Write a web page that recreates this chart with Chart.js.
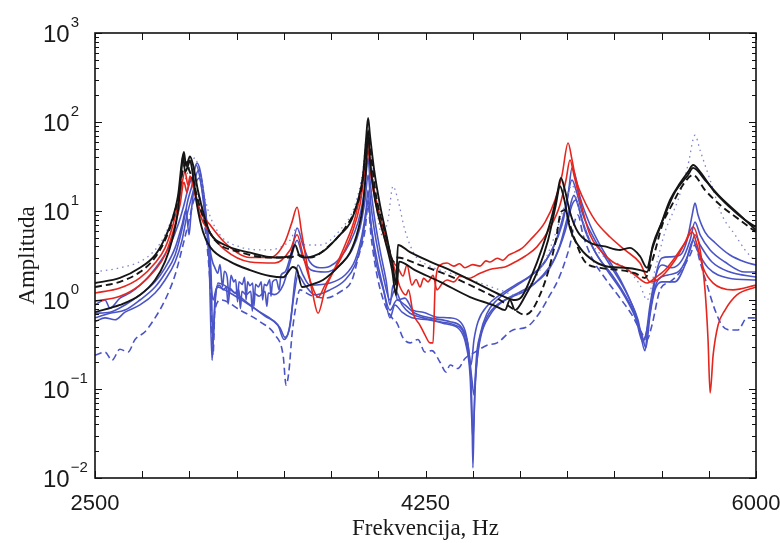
<!DOCTYPE html>
<html>
<head>
<meta charset="utf-8">
<script src="https://cdn.jsdelivr.net/npm/chart.js@4/dist/chart.umd.min.js"></script>
<style>
  html, body { margin: 0; padding: 0; background: #fff; }
  #wrap { width: 780px; height: 543px; }
</style>
</head>
<body>
<div id="wrap"><canvas id="amp" width="780" height="543"></canvas></div>
<script>
// frequency [Hz], amplitude pairs
const blackTop = [[2500,1.55],[2632,1.77],[2738,2.3],[2818,3.2],[2871,5.0],[2908,7.9],[2940,15],[2961,37],[2971,46],[2982,32],[3003,41],[3019,33],[3045,17],[3077,9],[3109,5.7],[3188,4.15],[3321,3.4],[3453,3.0],[3533,3.1],[3559,4.15],[3585,3.1],[3612,3.0],[3707,3.5],[3797,5.4],[3850,7.3],[3893,13.3],[3919,25],[3935,63],[3946,111],[3956,71],[3978,29],[4009,11.7],[4046,5.0],[4078,2.3],[4094,1.47],[4104,4.15],[4168,3.45],[4274,2.7],[4380,2.17],[4486,1.68],[4592,1.3],[4671,1.08],[4724,1.0],[4761,1.1],[4814,1.91],[4867,3.8],[4914,7.9],[4946,15],[4967,23.5],[4988,17.2],[5015,9.7],[5057,5.8],[5121,4.4],[5200,4.0],[5280,3.65],[5333,3.85],[5386,3.1],[5423,2.3],[5449,3.65],[5492,6.6],[5545,13.3],[5598,20.6],[5640,27.5],[5667,32.9],[5704,27.5],[5773,17.2],[5862,11],[5942,7.9],[6000,6.6]];

const blackLow = [[2500,0.73],[2632,0.88],[2738,1.14],[2818,1.68],[2871,2.7],[2908,4.7],[2940,10.3],[2955,23.5],[2966,42],[2977,27.5],[2992,32],[3003,37],[3019,25],[3040,11.7],[3072,5.8],[3109,3.95],[3215,2.7],[3321,2.17],[3427,1.86],[3496,1.8],[3548,2.35],[3570,2.17],[3596,1.4],[3638,1.47],[3707,1.68],[3797,2.47],[3850,3.4],[3893,6.1],[3919,11.7],[3935,29],[3946,81],[3956,37],[3983,13.3],[4036,4.7],[4073,2.17],[4094,1.14],[4110,2.7],[4194,2.17],[4327,1.6],[4486,1.08],[4618,0.86],[4671,0.77],[4697,1.0],[4724,0.77],[4777,1.1],[4846,2.17],[4899,4.7],[4940,11.7],[4962,19],[4983,14],[5015,6.4],[5068,3.85],[5147,2.7],[5227,2.35],[5306,2.3],[5386,2.17],[5423,2.06],[5454,4.15],[5502,7.5],[5571,16.3],[5640,25.4],[5667,30.5],[5730,22.3],[5810,14.4],[5915,9],[6000,6.1]];

const blackDash = [[2500,1.4],[2632,1.6],[2738,2.06],[2818,3.0],[2871,4.7],[2908,7.5],[2940,14],[2966,29],[2982,35.5],[2998,29],[3019,22.3],[3045,13.3],[3082,7.5],[3135,4.7],[3268,3.45],[3427,3.0],[3533,3.0],[3570,3.2],[3638,3.0],[3744,4.15],[3824,6.45],[3877,10.3],[3914,19.6],[3935,48],[3946,77],[3961,42.6],[3988,15],[4036,5.8],[4083,2.7],[4099,3.0],[4221,2.47],[4380,1.86],[4539,1.3],[4644,1.0],[4724,0.77],[4777,0.68],[4814,0.77],[4856,1.14],[4899,2.06],[4940,4.7],[4967,9.7],[4988,10.3],[5015,7],[5042,4.7],[5094,2.7],[5174,2.3],[5280,2.17],[5359,2.0],[5412,1.77],[5449,2.7],[5507,7.3],[5555,11.7],[5613,19.6],[5667,25.4],[5730,17.2],[5810,11.7],[5915,7.9],[6000,5.8]];

const blueDot = [[2500,2.06],[2632,2.3],[2738,2.7],[2818,3.65],[2871,5.4],[2924,10.3],[2977,22.3],[3030,39.5],[3056,25.4],[3098,10.3],[3162,5.4],[3268,3.95],[3400,3.65],[3533,4.7],[3570,6.45],[3612,4.15],[3691,4.15],[3797,6.1],[3877,11.7],[3919,29],[3940,71],[3956,48],[3983,15],[4020,5.4],[4051,7.9],[4078,19],[4104,13.3],[4141,6.1],[4194,3.2],[4274,2.4],[4380,2.0],[4539,1.55],[4644,1.3],[4724,1.14],[4803,1.47],[4883,2.8],[4936,5.4],[4988,11.7],[5026,19.6],[5057,11.7],[5121,4.7],[5200,3.0],[5306,2.3],[5386,1.47],[5423,1.0],[5465,2.17],[5518,5.8],[5587,13.3],[5640,32.9],[5677,71],[5704,48],[5757,22.3],[5820,9],[5889,5.4],[5942,3.65],[6000,2.67]];

const redA = [[2500,1.2],[2632,1.36],[2738,1.77],[2818,2.6],[2871,3.85],[2913,7],[2950,15],[2977,27.5],[2992,19.6],[3008,23.5],[3030,16.3],[3056,10.3],[3109,7],[3188,4.4],[3321,3.0],[3427,3.0],[3506,4.5],[3543,7.5],[3570,11],[3596,5.4],[3628,2.17],[3654,1.14],[3681,0.71],[3718,1.3],[3771,2.3],[3824,4.15],[3877,8.4],[3914,19.6],[3935,42.6],[3946,63],[3956,37],[3978,17.2],[4009,9],[4051,4.15],[4088,2.17],[4115,1.4],[4147,1.14],[4160,1.3],[4184,0.71],[4221,0.52],[4247,0.405],[4274,0.33],[4290,0.33],[4301,1.4],[4327,2.47],[4364,2.6],[4400,2.4],[4430,2.55],[4459,2.3],[4500,2.5],[4539,2.4],[4570,2.75],[4592,2.67],[4630,2.95],[4660,2.8],[4690,3.2],[4724,3.45],[4760,3.8],[4803,4.7],[4883,7.5],[4936,13.3],[4973,25.4],[5005,58],[5026,37.4],[5047,22.3],[5084,14],[5147,7.9],[5227,5.1],[5306,3.65],[5386,2.6],[5439,1.6],[5476,1.68],[5518,2.0],[5571,2.8],[5624,4.4],[5667,6.6],[5704,3.65],[5730,1.3],[5746,0.36],[5757,0.09],[5773,0.24],[5799,0.52],[5836,0.77],[5899,1.14],[6000,1.4]];

const redB = [[2500,0.97],[2632,1.1],[2738,1.47],[2818,2.17],[2871,3.2],[2913,5.8],[2950,11.7],[2971,21],[2987,16.3],[3003,24.7],[3024,17.2],[3056,9],[3109,5.7],[3188,3.65],[3321,2.67],[3453,2.6],[3533,3.65],[3570,5.4],[3601,3.2],[3638,1.68],[3681,1.08],[3718,1.47],[3797,2.8],[3861,5.65],[3903,11.7],[3930,29],[3946,48],[3961,25.4],[3988,11.7],[4036,4.7],[4078,2.7],[4104,2.3],[4131,1.86],[4152,2.47],[4178,1.47],[4200,1.7],[4221,1.4],[4240,1.75],[4263,1.6],[4290,1.9],[4311,1.3],[4340,1.55],[4364,1.68],[4400,1.6],[4433,1.86],[4480,1.75],[4539,2.0],[4590,2.2],[4644,2.3],[4671,2.35],[4724,2.67],[4777,3.1],[4840,3.95],[4909,6.45],[4962,11.7],[4994,22.3],[5015,37.4],[5036,25.4],[5068,13.3],[5121,5.4],[5174,3.65],[5243,2.67],[5306,2.3],[5359,1.91],[5423,1.55],[5465,1.77],[5518,2.17],[5571,3.0],[5624,4.4],[5662,5.8],[5688,4.15],[5720,2.3],[5773,1.55],[5878,1.3],[6000,1.47]];

const blueA = [[2500,0.88],[2553,1.0],[2579,0.81],[2632,1.05],[2685,1.2],[2738,1.47],[2791,1.91],[2844,2.67],[2897,4.15],[2940,7],[2971,11.7],[2998,19.6],[3019,25.4],[3040,34.6],[3056,28.9],[3077,15],[3098,5.4],[3120,2.8],[3135,2.3],[3150,2.0],[3162,2.5],[3175,1.4],[3185,2.1],[3200,1.8],[3210,1.1],[3220,1.9],[3235,1.6],[3245,1.7],[3255,0.95],[3262,1.6],[3280,1.5],[3292,1.8],[3300,1.0],[3308,1.6],[3320,1.45],[3335,1.55],[3342,0.85],[3350,1.5],[3365,1.4],[3380,1.6],[3388,1.0],[3396,1.5],[3410,1.45],[3425,1.7],[3432,1.1],[3440,1.6],[3460,1.7],[3475,1.3],[3485,1.9],[3506,2.06],[3543,3.65],[3570,6.45],[3601,4.15],[3638,2.67],[3691,2.3],[3744,2.4],[3797,2.95],[3850,4.4],[3893,7.5],[3919,13.3],[3935,25.4],[3946,39.5],[3956,22.3],[3978,9],[4009,3.65],[4041,1.68],[4062,0.88],[4078,1.47],[4104,1.0],[4141,1.05],[4184,0.77],[4237,0.73],[4311,0.64],[4380,0.63],[4433,0.57],[4465,0.405],[4486,0.186],[4496,0.058],[4501,0.013],[4507,0.045],[4517,0.186],[4539,0.405],[4576,0.71],[4629,1.0],[4697,1.3],[4777,1.68],[4856,2.3],[4920,3.65],[4973,7],[5005,15],[5026,30.5],[5042,25.4],[5068,14.4],[5121,7],[5174,4.15],[5243,2.35],[5291,1.55],[5333,1.0],[5375,0.6],[5412,0.27],[5428,0.52],[5449,1.0],[5476,2.17],[5502,2.97],[5545,3.05],[5598,3.2],[5635,4.7],[5662,9],[5677,12.3],[5693,9],[5730,5.8],[5783,4.4],[5862,3.2],[5942,2.67],[6000,2.47]];

const blueB = [[2500,0.71],[2579,0.73],[2659,0.88],[2738,1.14],[2818,1.6],[2871,2.3],[2924,3.85],[2961,7],[2982,10.3],[2998,5.4],[3008,9],[3030,22.3],[3051,28.9],[3072,17.2],[3093,7],[3114,2.17],[3125,0.31],[3135,1.0],[3157,1.47],[3180,1.3],[3195,1.4],[3205,0.9],[3215,1.35],[3240,1.2],[3262,1.3],[3270,0.8],[3278,1.25],[3300,1.15],[3325,1.25],[3333,0.75],[3340,1.2],[3370,1.1],[3400,1.25],[3410,0.85],[3418,1.2],[3450,1.15],[3496,1.47],[3533,2.67],[3570,4.7],[3601,3.0],[3644,2.17],[3718,2.06],[3797,2.47],[3861,3.65],[3903,6.45],[3930,13.3],[3946,25.4],[3961,11.7],[3988,4.7],[4025,1.91],[4062,1.0],[4088,1.3],[4126,0.88],[4168,0.71],[4237,0.63],[4327,0.57],[4407,0.52],[4449,0.44],[4475,0.27],[4491,0.186],[4507,0.36],[4528,0.57],[4581,0.88],[4644,1.14],[4724,1.47],[4803,1.86],[4883,2.67],[4946,5],[4988,10.3],[5026,22.3],[5047,17.2],[5084,9],[5147,4.7],[5227,2.47],[5306,1.3],[5359,0.73],[5401,0.36],[5417,0.405],[5439,0.88],[5470,1.91],[5502,2.47],[5555,2.3],[5608,2.8],[5651,4.7],[5677,7.5],[5704,5.4],[5757,3.65],[5836,2.67],[5942,2.06],[6000,2.06]];

const blueC = [[2500,0.57],[2553,0.63],[2606,0.6],[2659,0.73],[2738,0.88],[2818,1.2],[2871,1.68],[2924,2.67],[2961,4.7],[2987,9],[3008,13.3],[3030,19.6],[3051,23.5],[3072,15],[3093,6.1],[3109,2.17],[3125,1.0],[3146,1.4],[3215,1.2],[3294,0.95],[3374,0.73],[3437,0.6],[3480,0.485],[3506,0.38],[3533,0.52],[3559,1.68],[3575,2.47],[3601,1.91],[3638,1.47],[3744,1.55],[3824,1.91],[3877,2.8],[3914,5.4],[3935,10.3],[3946,17.2],[3956,9],[3983,3.65],[4020,1.55],[4062,0.77],[4099,1.0],[4141,0.88],[4194,0.71],[4274,0.63],[4380,0.57],[4443,0.485],[4475,0.31],[4496,0.126],[4507,0.085],[4517,0.16],[4539,0.36],[4592,0.68],[4671,1.0],[4750,1.23],[4830,1.55],[4909,2.3],[4962,4.15],[5005,9],[5036,15],[5057,11.7],[5094,6.1],[5158,3.2],[5238,1.91],[5306,1.14],[5359,0.68],[5401,0.34],[5423,0.46],[5449,1.0],[5481,1.68],[5534,1.91],[5598,2.17],[5651,3.65],[5677,5.4],[5704,4.15],[5767,2.67],[5862,2.06],[6000,1.81]];

const blueD = [[2500,0.63],[2579,0.71],[2659,0.77],[2738,1.0],[2818,1.4],[2871,2.0],[2924,3.2],[2966,7],[2992,13.3],[3014,19.6],[3035,32.9],[3056,23.5],[3082,9],[3104,2.8],[3120,0.21],[3130,0.6],[3151,1.55],[3241,1.2],[3321,0.88],[3400,0.66],[3469,0.52],[3501,0.36],[3527,0.46],[3554,1.14],[3575,1.91],[3612,1.47],[3665,1.14],[3744,1.3],[3824,1.68],[3877,2.47],[3914,4.7],[3935,9],[3946,13.3],[3961,7],[3988,2.67],[4030,1.23],[4062,0.63],[4088,0.88],[4126,0.73],[4178,0.63],[4263,0.6],[4354,0.54],[4433,0.46],[4465,0.31],[4486,0.143],[4501,0.027],[4512,0.097],[4528,0.27],[4565,0.57],[4629,0.88],[4708,1.08],[4788,1.3],[4867,1.86],[4936,2.97],[4988,5.8],[5026,11.7],[5047,13.3],[5079,7.9],[5137,3.85],[5211,2.17],[5291,1.23],[5349,0.73],[5396,0.405],[5417,0.29],[5439,0.68],[5465,1.3],[5502,1.6],[5571,1.6],[5624,2.47],[5667,4.7],[5688,3.65],[5746,2.3],[5852,1.77],[6000,1.68]];

const blueDash = [[2500,0.24],[2553,0.26],[2590,0.21],[2632,0.28],[2675,0.26],[2712,0.36],[2765,0.44],[2818,0.63],[2871,1.0],[2924,1.91],[2966,4.15],[2998,7.9],[3024,13.3],[3045,15],[3072,9],[3098,3.2],[3114,1.0],[3125,0.24],[3135,0.77],[3167,1.0],[3268,0.77],[3374,0.57],[3453,0.405],[3496,0.24],[3512,0.11],[3527,0.16],[3543,0.405],[3565,0.88],[3585,1.3],[3638,1.14],[3718,1.05],[3797,1.23],[3861,1.68],[3893,2.95],[3930,6.1],[3946,11.7],[3961,5.4],[3993,1.91],[4036,0.88],[4073,0.63],[4099,0.55],[4131,0.375],[4168,0.33],[4210,0.36],[4247,0.26],[4284,0.27],[4327,0.2],[4359,0.155],[4380,0.186],[4422,0.17],[4459,0.22],[4512,0.26],[4576,0.31],[4629,0.33],[4713,0.46],[4788,0.5],[4856,0.73],[4909,1.14],[4952,1.68],[4988,2.67],[5015,4.15],[5042,7.9],[5057,9],[5084,5.4],[5131,2.97],[5200,1.77],[5280,1.05],[5343,0.68],[5386,0.46],[5423,0.36],[5449,0.52],[5492,1.3],[5545,1.6],[5598,2.06],[5651,3.2],[5677,4.15],[5704,2.67],[5741,1.47],[5783,0.77],[5820,0.52],[5862,0.46],[5905,0.46],[5952,0.63],[6000,0.63]];

const xTicks = [2500, 2750, 3000, 3250, 3500, 3750, 4000, 4250, 4500, 4750, 5000, 5250, 5500, 5750, 6000];
const xLabels = [2500, 4250, 6000];
const yDecades = [-2, -1, 0, 1, 2, 3];

const BLACK = "#151515", RED = "#e4261e", BLUE = "#4a54c6", DOTS = "#7d86cc";

function line(points, color, width, dash) {
  return {
    data: points.map(p => ({ x: p[0], y: p[1] })),
    borderColor: color,
    borderWidth: width,
    borderDash: dash || [],
    pointRadius: 0,
    cubicInterpolationMode: "monotone",
    fill: false
  };
}

// frame, inward ticks, log labels and axis titles
const frame = {
  id: "frame",
  afterDraw(chart) {
    const ctx = chart.ctx;
    const a = chart.chartArea;
    const xs = chart.scales.x, ys = chart.scales.y;
    ctx.save();
    ctx.strokeStyle = "#111";
    ctx.lineWidth = 1;
    ctx.beginPath();
    xTicks.forEach(v => {
      const px = Math.round(xs.getPixelForValue(v)) + 0.5;
      ctx.moveTo(px, a.bottom); ctx.lineTo(px, a.bottom - 7);
      ctx.moveTo(px, a.top); ctx.lineTo(px, a.top + 7);
    });
    yDecades.forEach(d => {
      for (let m = 1; m <= 9; m++) {
        if (d === 3 && m > 1) break;
        const py = Math.round(ys.getPixelForValue(m * Math.pow(10, d))) + 0.5;
        const len = m === 1 ? 7 : 4;
        ctx.moveTo(a.left, py); ctx.lineTo(a.left + len, py);
        ctx.moveTo(a.right, py); ctx.lineTo(a.right - len, py);
      }
    });
    ctx.stroke();
    ctx.lineWidth = 1.6;
    ctx.strokeRect(a.left, a.top, a.right - a.left, a.bottom - a.top);

    ctx.fillStyle = "#1a1a1a";
    ctx.textBaseline = "middle";
    ctx.textAlign = "left";
    yDecades.forEach(d => {
      const py = ys.getPixelForValue(Math.pow(10, d));
      ctx.font = "24px 'Liberation Sans', Arial, sans-serif";
      ctx.fillText("10", 43, py + 2);
      const w = ctx.measureText("10").width;
      ctx.font = "15px 'Liberation Sans', Arial, sans-serif";
      ctx.fillText(d < 0 ? "\u2212" + (-d) : String(d), 43 + w + 1, py - 10);
    });

    ctx.font = "23px 'Liberation Serif', 'Times New Roman', serif";
    ctx.textAlign = "center";
    ctx.fillText("Frekvencija, Hz", (a.left + a.right) / 2, 529);
    ctx.translate(28, (a.top + a.bottom) / 2);
    ctx.rotate(-Math.PI / 2);
    ctx.fillText("Amplituda", 0, 0);
    ctx.restore();
  }
};

new Chart(document.getElementById("amp"), {
  type: "line",
  data: {
    datasets: [
      line(blackTop, BLACK, 1.9),
      line(blackLow, BLACK, 1.9),
      line(blackDash, BLACK, 1.9, [7, 4]),
      line(redA, RED, 1.6),
      line(redB, RED, 1.6),
      line(blueDot, DOTS, 1.3, [1.5, 4]),
      line(blueA, BLUE, 1.6),
      line(blueB, BLUE, 1.6),
      line(blueC, BLUE, 1.6),
      line(blueD, BLUE, 1.6),
      line(blueDash, BLUE, 1.6, [7, 4])
    ]
  },
  options: {
    responsive: false,
    animation: false,
    events: [],
    layout: { padding: { top: 33, right: 24, left: 0, bottom: 0 } },
    plugins: { legend: { display: false }, tooltip: { enabled: false } },
    scales: {
      x: {
        type: "linear",
        min: 2500,
        max: 6000,
        afterFit: s => { s.height = 65; s.paddingLeft = 0; s.paddingRight = 0; },
        afterBuildTicks: s => { s.ticks = xTicks.map(v => ({ value: v })); },
        grid: { display: false },
        border: { display: false },
        ticks: {
          autoSkip: false,
          maxRotation: 0,
          padding: 5,
          color: "#1a1a1a",
          font: { family: "'Liberation Sans', Arial, sans-serif", size: 22 },
          callback: v => xLabels.includes(v) ? String(v) : ""
        }
      },
      y: {
        type: "logarithmic",
        min: 0.01,
        max: 1000,
        afterFit: s => { s.width = 95; },
        grid: { display: false },
        border: { display: false },
        ticks: { display: false }
      }
    }
  },
  plugins: [frame]
});
</script>
</body>
</html>
